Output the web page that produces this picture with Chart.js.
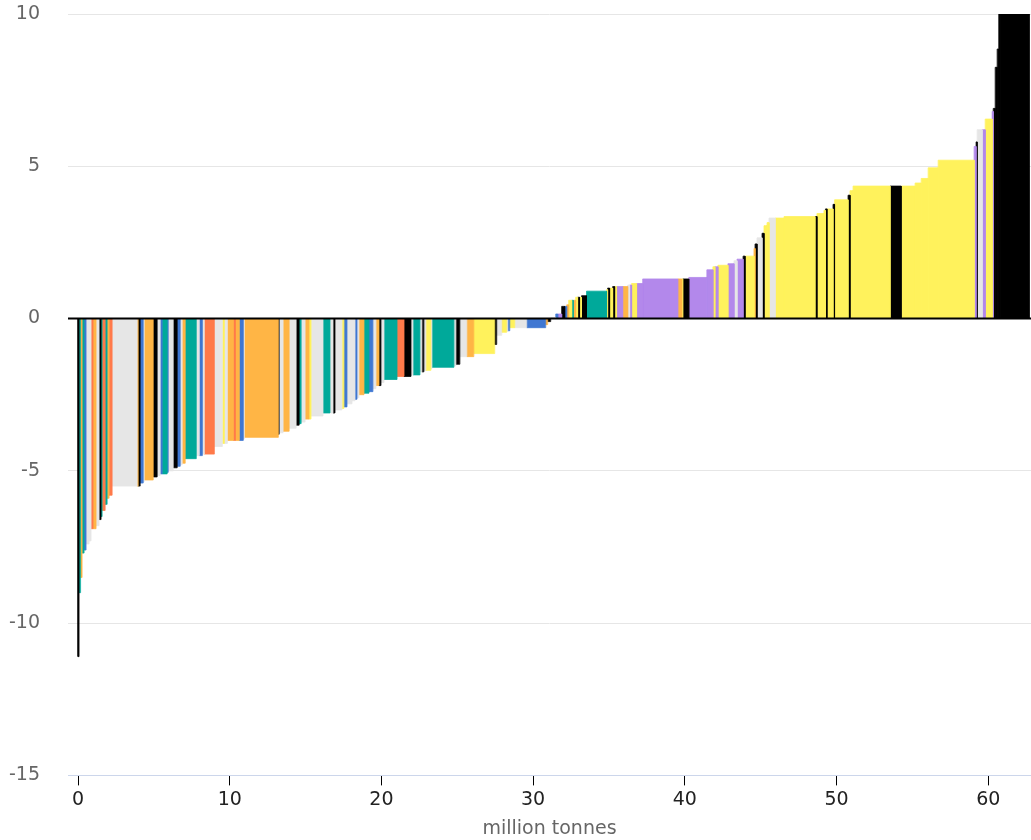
<!DOCTYPE html>
<html>
<head>
<meta charset="utf-8">
<script src="https://cdn.jsdelivr.net/npm/chart.js@4.4.1/dist/chart.umd.min.js"></script>
<style>
  html, body { margin: 0; padding: 0; background: #fff; }
  #wrap { width: 1031px; height: 840px; position: relative; }
</style>
</head>
<body>
<div id="wrap"><canvas id="mac"></canvas></div>
<script>
// abatement potential of each measure (million tonnes), in curve order
const widths = [
  0.07, 0.10, 0.10, 0.13, 0.13, 0.20, 0.13, 0.13, 0.20, 0.20,
  0.13, 0.07, 0.20, 0.13, 0.13, 0.20, 1.65, 0.07, 0.13, 0.20,
  0.07, 0.59, 0.26, 0.20, 0.13, 0.33, 0.07, 0.33, 0.26, 0.20,
  0.13, 0.20, 0.73, 0.20, 0.20, 0.13, 0.66, 0.53, 0.13, 0.20,
  0.40, 0.13, 0.26, 0.26, 0.07, 2.24, 0.05, 0.26, 0.40, 0.46,
  0.20, 0.13, 0.26, 0.26, 0.13, 0.79, 0.46, 0.20, 0.13, 0.46,
  0.13, 0.20, 0.33, 0.20, 0.13, 0.13, 0.33, 0.33, 0.26, 0.20,
  0.20, 0.13, 0.20, 0.86, 0.46, 0.46, 0.13, 0.46, 0.13, 0.13,
  0.13, 0.33, 0.07, 1.45, 0.13, 0.26, 0.46, 0.46, 1.38, 0.13,
  0.33, 0.33, 0.07, 0.13, 0.33, 0.79, 1.25, 0.13, 0.20, 0.33,
  0.13, 0.26, 0.20, 0.13, 0.13, 0.20, 0.10, 0.16, 0.13, 0.13,
  0.13, 0.33, 1.32, 0.07, 0.13, 0.20, 0.13, 0.13, 0.40, 0.33,
  0.13, 0.13, 0.33, 0.40, 2.31, 0.26, 0.07, 0.40, 1.19, 0.40,
  0.13, 0.20, 0.66, 0.40, 0.20, 0.40, 0.13, 0.59, 0.07, 0.13,
  0.33, 0.13, 0.20, 0.13, 0.40, 0.59, 2.04, 0.13, 0.46, 0.10,
  0.10, 0.40, 0.10, 0.89, 0.13, 0.20, 2.44, 0.73, 0.92, 0.40,
  0.46, 0.66, 2.37, 0.13, 0.07, 0.33, 0.20, 0.46, 0.07, 0.13,
  0.13, 0.10, 0.10, 1.91
];

// cost of each measure
const costs = [
  -11.1, -9.0, -8.5, -7.7, -7.6, -7.4, -7.3, -6.9, -6.9, -6.8,
  -6.6, -6.5, -6.3, -6.1, -5.9, -5.8, -5.5, -5.5, -5.5, -5.4,
  -5.35, -5.3, -5.2, -5.15, -5.1, -5.1, -5.05, -5.0, -4.9, -4.85,
  -4.8, -4.75, -4.6, -4.5, -4.5, -4.45, -4.45, -4.2, -4.1, -4.1,
  -4.0, -4.0, -4.0, -4.0, -3.95, -3.9, -3.8, -3.75, -3.7, -3.6,
  -3.5, -3.45, -3.4, -3.3, -3.3, -3.2, -3.1, -3.1, -3.1, -3.0,
  -2.95, -2.9, -2.8, -2.7, -2.65, -2.6, -2.5, -2.45, -2.4, -2.3,
  -2.2, -2.2, -2.1, -2.0, -1.9, -1.9, -1.85, -1.85, -1.75, -1.75,
  -1.7, -1.7, -1.65, -1.6, -1.55, -1.5, -1.25, -1.25, -1.15, -0.85,
  -0.55, -0.45, -0.42, -0.4, -0.3, -0.3, -0.3, -0.2, -0.1, 0.03,
  0.15, 0.15, 0.4, 0.4, 0.45, 0.6, 0.6, 0.6, 0.7, 0.7,
  0.7, 0.75, 0.9, 0.95, 1.0, 1.0, 1.05, 1.05, 1.05, 1.05,
  1.1, 1.1, 1.15, 1.15, 1.3, 1.3, 1.3, 1.3, 1.35, 1.6,
  1.7, 1.7, 1.75, 1.8, 1.9, 1.95, 2.05, 2.05, 2.3, 2.45,
  2.65, 2.8, 3.05, 3.15, 3.3, 3.3, 3.35, 3.35, 3.45, 3.55,
  3.6, 3.6, 3.75, 3.9, 4.05, 4.2, 4.35, 4.35, 4.35, 4.45,
  4.6, 4.95, 5.2, 5.65, 5.8, 6.2, 6.2, 6.55, 6.8, 6.9,
  8.25, 8.85, 10.5, 12
];

// measure group of each bar (see palette)
const kinds = [
  'k','t','o','t','b','g','g','c','o','g',
  'k','t','c','t','o','c','g','o','k','b',
  'g','o','k','g','b','t','b','g','k','b',
  'g','o','t','g','b','g','c','g','y','g',
  'o','c','o','b','g','o','k','g','o','g',
  'k','t','g','o','y','g','t','g','k','g',
  'y','b','g','g','b','g','o','t','b','g',
  'o','k','g','t','c','k','g','t','g','k',
  'g','y','g','t','g','k','g','o','y','k',
  'g','y','g','b','y','g','b','o','k','g',
  'b','p','k','b','o','y','t','o','y','k',
  'y','k','t','y','k','y','k','y','p','o',
  'g','p','y','p','p','o','y','k','p','p',
  'y','p','y','p','g','p','k','y','o','k',
  'g','k','y','y','g','y','y','k','y','y',
  'k','y','k','y','k','y','y','k','y','y',
  'y','y','y','p','k','g','p','y','p','k',
  'k','k','k','k'
];

const xTicks = [0, 10, 20, 30, 40, 50, 60];
const yTicks = [-15, -10, -5, 0, 5, 10];
const xMin = -0.66;
const xMax = 62.82;

const palette = {
  k: '#000000',
  t: '#00a99a',
  o: '#ffb545',
  g: '#e6e6e6',
  b: '#3f77d2',
  c: '#ff7a4a',
  y: '#fff25c',
  p: '#b388eb',
};

const FONT = 'DejaVu Sans';

const datasets = [{
  data: [{ x: xMin, y: 0 }, { x: xMax, y: 0 }],
  borderColor: '#000',
  borderWidth: 2,
  pointRadius: 0,
  fill: false,
  order: -1,
}];

// each measure is a filled outline: up from the axis, across its width, back down
let start = 0;
widths.forEach((w, i) => {
  const end = start + w;
  const col = palette[kinds[i]];
  datasets.push({
    data: [
      { x: start, y: 0 },
      { x: start, y: costs[i] },
      { x: end, y: costs[i] },
      { x: end, y: 0 },
    ],
    borderWidth: 0.8,
    borderColor: col,
    backgroundColor: col,
    pointRadius: 0,
    fill: 'origin',
  });
  start = end;
});

new Chart(document.getElementById('mac'), {
  type: 'line',
  data: { datasets },
  options: {
    responsive: true,
    maintainAspectRatio: false,
    animation: false,
    layout: { padding: { top: 0, left: 9, right: 0, bottom: 0 } },
    plugins: {
      legend: { display: false },
      tooltip: { enabled: false },
    },
    scales: {
      x: {
        type: 'linear',
        min: xMin,
        max: xMax,
        afterBuildTicks: (s) => { s.ticks = xTicks.map((v) => ({ value: v })); },
        grid: { drawOnChartArea: false, drawTicks: true, tickLength: 10, tickColor: '#000', tickWidth: 1 },
        border: { color: '#ccd6eb', width: 1 },
        ticks: { color: '#222', font: { family: FONT, size: 19 }, padding: 3, maxRotation: 0, autoSkip: false },
        title: {
          display: true,
          text: 'million tonnes',
          color: '#666',
          font: { family: FONT, size: 19 },
          padding: { top: 3, bottom: 0 },
        },
      },
      y: {
        min: -15,
        max: 10,
        afterBuildTicks: (s) => { s.ticks = yTicks.map((v) => ({ value: v })); },
        afterFit: (s) => {
          s.width = 59;
          s.paddingTop = 14;
          s.paddingBottom = 0;
        },
        grid: { color: '#e6e6e6', drawTicks: false },
        border: { display: false },
        ticks: { color: '#666', font: { family: FONT, size: 19 }, padding: 28 },
      },
    },
  },
});
</script>
</body>
</html>
